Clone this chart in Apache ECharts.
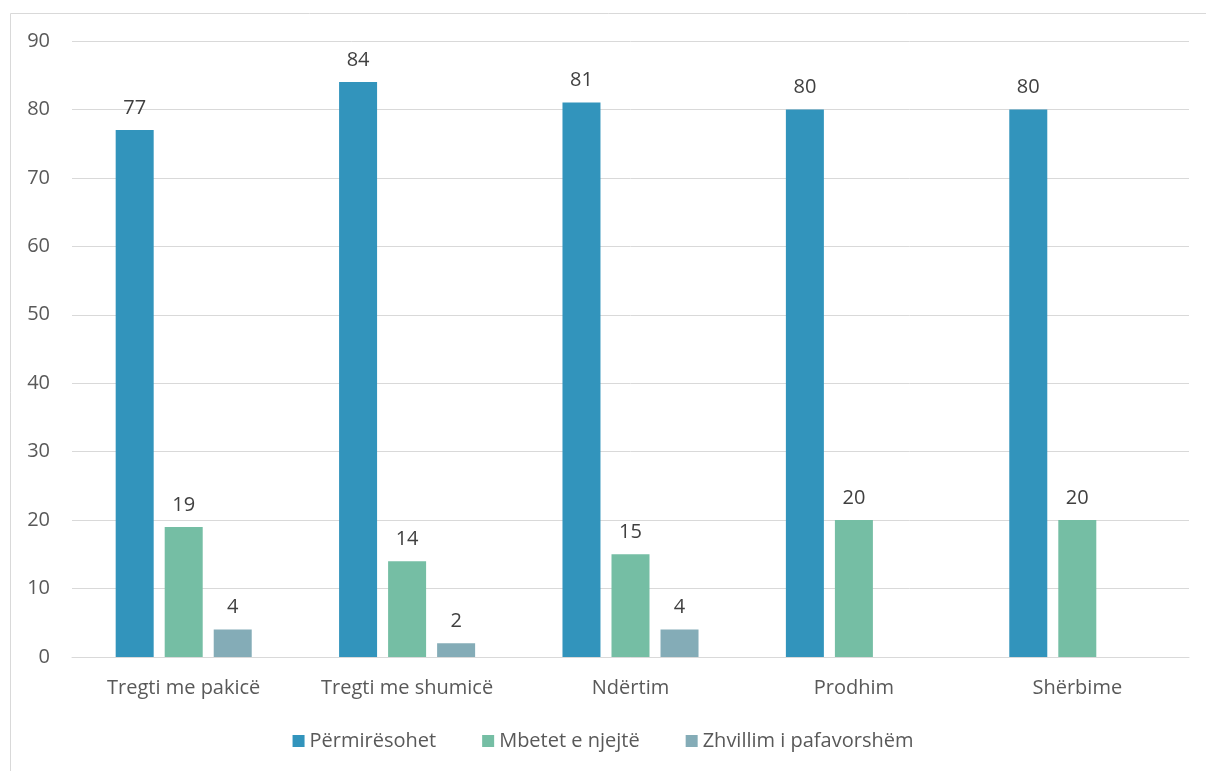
<!DOCTYPE html>
<html><head><meta charset="utf-8">
<script src="https://cdn.jsdelivr.net/npm/echarts@6/dist/echarts.min.js"></script>
<style>html,body{margin:0;padding:0;background:#fff}#c{width:1206px;height:771px}</style>
</head><body><div id="c"></div>
<script>
const categories = ['Tregti me pakicë','Tregti me shumicë','Ndërtim','Prodhim','Shërbime'];
const seriesNames = ['Përmirësohet','Mbetet e njejtë','Zhvillim i pafavorshëm'];
const improves = [77,84,81,80,80];
const same = [19,14,15,20,20];
const unfavorable = [4,2,4,null,null];
const colors = ['#3294BC','#75BEA4','#84ACB7'];
const font = '"Open Sans", "Noto Sans", sans-serif';
const chart = echarts.init(document.getElementById('c'));
const mk = (name, data, color) => ({
  name, type:'bar', data, barWidth:38, barGap:'29%',
  itemStyle:{color},
  label:{show:true, position:'top', distance:12, color:'#404040', fontSize:20, fontFamily:font}
});
chart.setOption({
  animation:false,
  graphic:[{type:'rect', left:8, top:11, shape:{width:1400, height:1000}, style:{fill:'none', stroke:'#d9d9d9', lineWidth:1}}],
  grid:{left:72, right:17, top:41, bottom:114, containLabel:false},
  legend:{bottom:15, left:'center', itemWidth:12, itemHeight:12, itemGap:46, icon:'rect',
    textStyle:{color:'#595959', fontSize:20, fontFamily:font}, data:seriesNames},
  xAxis:{type:'category', data:categories, axisTick:{show:false},
    axisLine:{lineStyle:{color:'#d9d9d9'}},
    axisLabel:{color:'#595959', fontSize:20, fontFamily:font, margin:21, interval:0}},
  yAxis:{type:'value', min:0, max:90, interval:10, axisLine:{show:false}, axisTick:{show:false},
    splitLine:{lineStyle:{color:'#d9d9d9'}},
    axisLabel:{color:'#595959', fontSize:20, fontFamily:font, margin:22}},
  series:[mk(seriesNames[0], improves, colors[0]), mk(seriesNames[1], same, colors[1]), mk(seriesNames[2], unfavorable, colors[2])]
});
</script></body></html>
